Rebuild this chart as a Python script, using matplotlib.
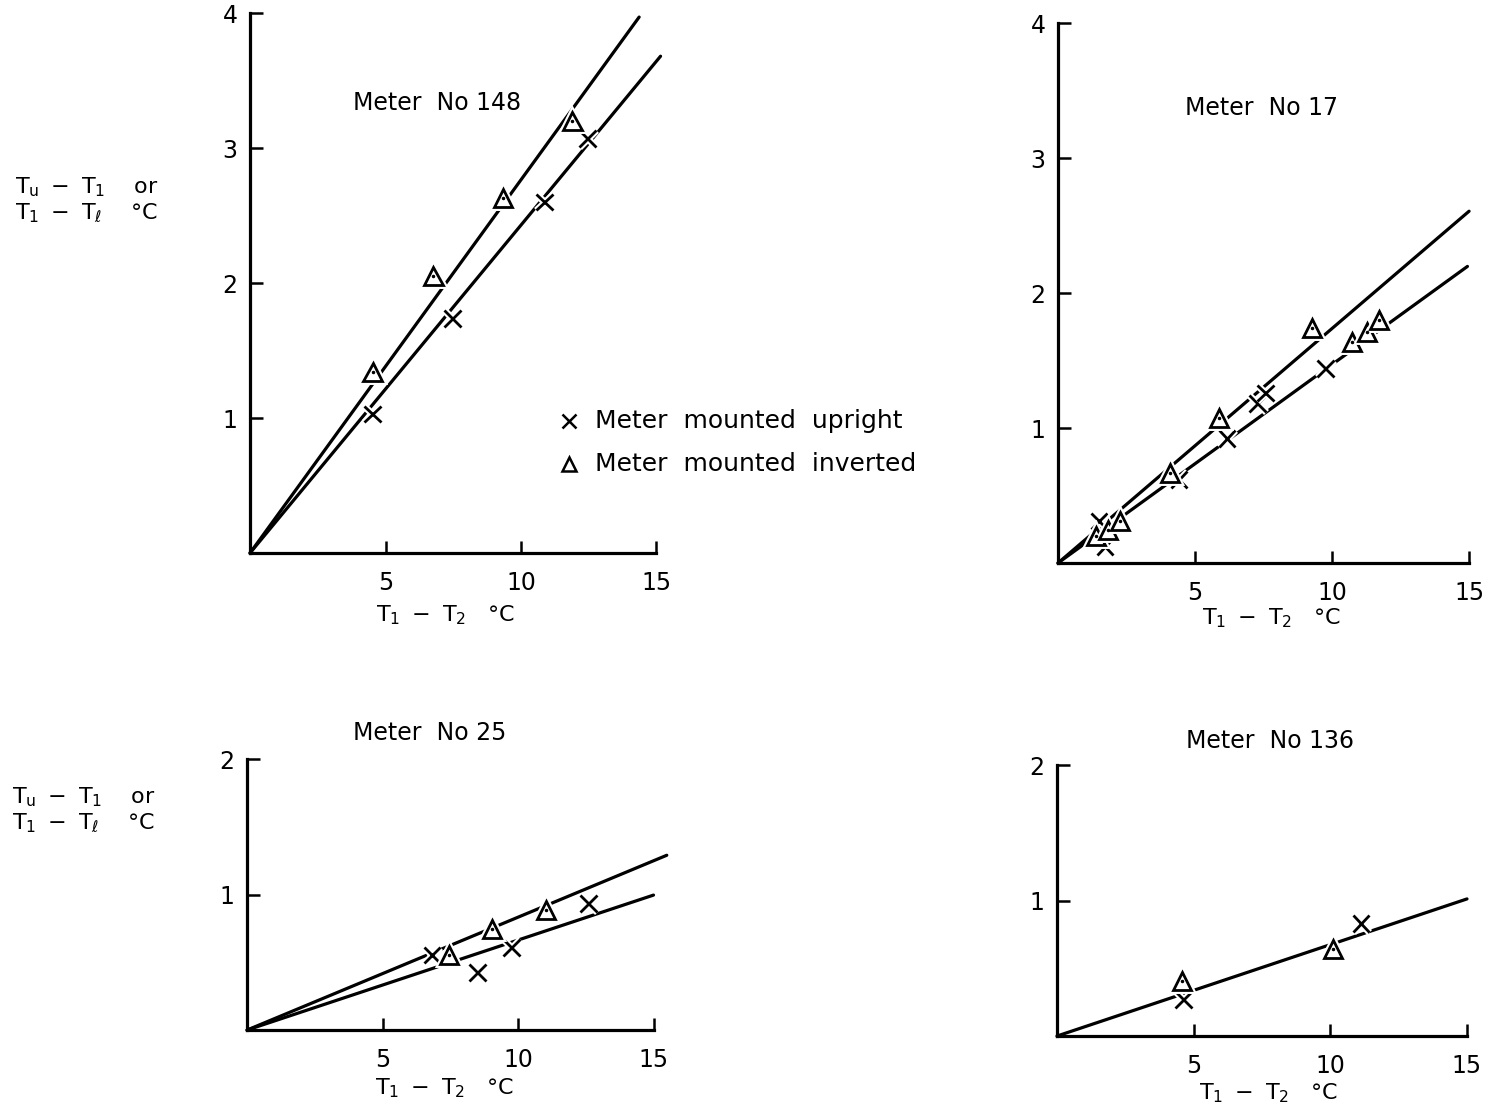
import matplotlib.pyplot as plt
import matplotlib.patheffects as pe

plt.rcParams.update({'font.size': 15, 'font.family': 'DejaVu Sans',
                     'mathtext.default': 'regular'})

# Meter No 148
m148_up_x = [4.52, 7.48, 10.86, 12.45]
m148_up_y = [1.03, 1.735, 2.60, 3.07]
m148_inv_x = [4.52, 6.77, 9.35, 11.9]
m148_inv_y = [1.34, 2.05, 2.63, 3.20]
m148_lines_x = [[0, 14.36], [0, 15.15]]
m148_lines_y = [[0, 3.97], [0, 3.68]]

# Meter No 17
m17_up_x = [1.50, 1.72, 4.41, 6.17, 7.27, 7.58, 9.77]
m17_up_y = [0.31, 0.12, 0.62, 0.924, 1.18, 1.26, 1.44]
m17_inv_x = [1.39, 1.82, 2.26, 4.10, 5.87, 9.28, 10.74, 11.29, 11.72]
m17_inv_y = [0.20, 0.245, 0.31, 0.667, 1.076, 1.74, 1.636, 1.71, 1.80]
m17_lines_x = [[0, 15.0], [0, 14.94]]
m17_lines_y = [[0, 2.606], [0, 2.197]]

# Meter No 25
m25_up_x = [6.82, 8.50, 9.77, 12.6]
m25_up_y = [0.553, 0.426, 0.607, 0.935]
m25_inv_x = [7.47, 9.05, 11.03]
m25_inv_y = [0.553, 0.743, 0.886]
m25_lines_x = [[0, 15.49], [0, 15.0]]
m25_lines_y = [[0, 1.29], [0, 0.996]]

# Meter No 136
m136_up_x = [4.63, 11.12]
m136_up_y = [0.268, 0.83]
m136_inv_x = [4.57, 10.1]
m136_inv_y = [0.404, 0.64]
m136_lines_x = [[0, 15.0]]
m136_lines_y = [[0, 1.012]]

xticks = [5, 10, 15]
xlabel = r'$T_1\ -\ T_2$   °C'
ylabel = r'$T_u\ -\ T_1$    or' + '\n' + r'$T_1\ -\ T_\ell$    °C'

halo = [pe.withStroke(linewidth=5, foreground='white')]


def draw_panel(ax, up_x, up_y, inv_x, inv_y, lines_x, lines_y, ymax, title, title_pos, xlab_pos):
    for lx, ly in zip(lines_x, lines_y):
        ax.plot(lx, ly, color='black', lw=2.3, solid_capstyle='round', clip_on=False, zorder=2)
    ax.plot(up_x, up_y, ls='none', marker='x', ms=12, mew=2, color='black',
            path_effects=halo, clip_on=False, zorder=3)
    ax.plot(inv_x, inv_y, ls='none', marker='^', ms=13, mew=2, mfc='white', mec='black',
            path_effects=halo, clip_on=False, zorder=3)
    # dot in the middle of each triangle
    ax.plot(inv_x, inv_y, ls='none', marker='.', ms=3, color='black', clip_on=False, zorder=4)

    ax.set_xlim(0, 15)
    ax.set_ylim(0, ymax)
    ax.spines['top'].set_visible(False)
    ax.spines['right'].set_visible(False)
    ax.spines['left'].set_linewidth(2.3)
    ax.spines['bottom'].set_linewidth(2.3)
    ax.set_xticks(xticks)
    ax.set_yticks(list(range(1, ymax + 1)))
    ax.tick_params(axis='both', direction='in', length=9, width=1.8, labelsize=17)
    ax.tick_params(axis='x', pad=13)
    ax.tick_params(axis='y', pad=9)

    ax.text(title_pos[0], title_pos[1], title, transform=ax.transAxes,
            ha='center', va='center', fontsize=17)
    ax.set_xlabel(xlabel, fontsize=16)
    ax.xaxis.set_label_coords(xlab_pos[0], xlab_pos[1])


fig = plt.figure(figsize=(14.91, 11.12), dpi=100)

ax1 = fig.add_axes([0.1677, 0.5027, 0.2726, 0.4856])
draw_panel(ax1, m148_up_x, m148_up_y, m148_inv_x, m148_inv_y, m148_lines_x, m148_lines_y,
           4, 'Meter  No 148', (0.46, 0.833), (0.48, -0.093))

ax2 = fig.add_axes([0.7096, 0.4937, 0.2757, 0.4856])
draw_panel(ax2, m17_up_x, m17_up_y, m17_inv_x, m17_inv_y, m17_lines_x, m17_lines_y,
           4, 'Meter  No 17', (0.496, 0.843), (0.52, -0.080))

ax3 = fig.add_axes([0.1657, 0.0737, 0.2726, 0.2437])
draw_panel(ax3, m25_up_x, m25_up_y, m25_inv_x, m25_inv_y, m25_lines_x, m25_lines_y,
           2, 'Meter  No 25', (0.45, 1.096), (0.487, -0.170))

ax4 = fig.add_axes([0.7089, 0.0683, 0.2750, 0.2437])
draw_panel(ax4, m136_up_x, m136_up_y, m136_inv_x, m136_inv_y, m136_lines_x, m136_lines_y,
           2, 'Meter  No 136', (0.52, 1.089), (0.515, -0.166))

# y labels sit to the left of the left-hand panels
for ax, ypos in [(ax1, 0.654), (ax3, 0.812)]:
    ax.set_ylabel(ylabel, rotation=0, ha='left', va='center', fontsize=16, linespacing=1.1)
    ax.yaxis.set_label_coords(-0.578, ypos)

# key, drawn by hand inside the first panel
ax1.plot([0.785], [0.244], transform=ax1.transAxes, marker='x', ms=10, mew=1.8,
         color='black', clip_on=False)
ax1.plot([0.785], [0.165], transform=ax1.transAxes, marker='^', ms=10, mew=1.8,
         mfc='white', mec='black', clip_on=False)
ax1.text(0.848, 0.244, 'Meter  mounted  upright', transform=ax1.transAxes,
         ha='left', va='center', fontsize=18)
ax1.text(0.848, 0.165, 'Meter  mounted  inverted', transform=ax1.transAxes,
         ha='left', va='center', fontsize=18)

plt.savefig('out.png', dpi=100)
